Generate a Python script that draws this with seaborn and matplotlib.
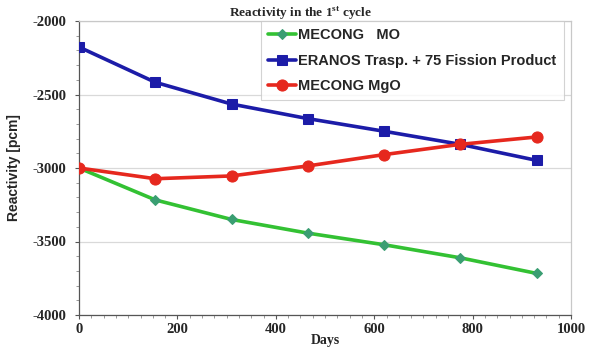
import matplotlib
matplotlib.use("Agg")
import matplotlib.pyplot as plt
import seaborn as sns
import pandas as pd
from matplotlib.ticker import MultipleLocator

days = [0, 155, 310, 465, 620, 775, 930]
mecong_mo = [-3000, -3217, -3350, -3443, -3522, -3611, -3717]
eranos = [-2177, -2417, -2565, -2664, -2750, -2839, -2948]
mecong_mgo = [-3000, -3073, -3054, -2986, -2909, -2839, -2789]
labels = ["MECONG   MO", "ERANOS Trasp. + 75 Fission Product", "MECONG MgO"]

df = pd.DataFrame({
    "Days": days * 3,
    "val": mecong_mo + eranos + mecong_mgo,
    "series": [labels[0]] * 7 + [labels[1]] * 7 + [labels[2]] * 7,
})

sns.set_style("white")
plt.rcParams["axes.unicode_minus"] = False
fig = plt.figure(figsize=(5.93, 3.49), dpi=100)
ax = fig.add_axes([79/593, 1-315/349, (571-79)/593, (315-21)/349])

palette = {labels[0]: "#33c133", labels[1]: "#1c1ca8", labels[2]: "#e6281e"}
mfc = {labels[0]: "#3a9e72", labels[1]: "#1c1ca8", labels[2]: "#e6281e"}
markers = {labels[0]: "D", labels[1]: "s", labels[2]: "o"}
msize = {labels[0]: 5.5, labels[1]: 7.5, labels[2]: 8}

for lab in labels:
    sub = df[df.series == lab]
    sns.lineplot(data=sub, x="Days", y="val", ax=ax, color=palette[lab],
                 marker=markers[lab], markersize=msize[lab], markerfacecolor=mfc[lab],
                 markeredgecolor=mfc[lab], linewidth=2.6, label=lab, zorder=3)

ax.set_xlim(0, 1000)
ax.set_ylim(-4000, -2000)
ax.xaxis.set_major_locator(MultipleLocator(200))
ax.xaxis.set_minor_locator(MultipleLocator(25))
ax.yaxis.set_major_locator(MultipleLocator(500))
ax.yaxis.set_minor_locator(MultipleLocator(100))
ax.yaxis.grid(True, which="major", color="#d9d9d9", linewidth=0.9)
ax.set_axisbelow(True)

for s in ["top", "right"]:
    ax.spines[s].set_color("#c8c8c8")
    ax.spines[s].set_linewidth(0.9)
for s in ["left", "bottom"]:
    ax.spines[s].set_color("#555555")
    ax.spines[s].set_linewidth(0.9)

ax.tick_params(axis="both", which="major", direction="out", length=3, width=0.8,
               color="#555555")
ax.tick_params(axis="both", which="minor", direction="out", length=2.5, width=0.6,
               color="#888888")
ax.tick_params(axis="x", which="major", pad=3)
ax.tick_params(axis="y", which="major", pad=6)
ax.tick_params(axis="x", which="both", bottom=True)
ax.tick_params(axis="y", which="both", left=True)
for t in ax.get_xticklabels() + ax.get_yticklabels():
    t.set_fontfamily("Liberation Serif")
    t.set_fontweight("bold")
    t.set_fontsize(10.5)

ax.set_xlabel("Days", fontfamily="Liberation Serif", fontweight="bold", fontsize=10, labelpad=-2)
ax.set_ylabel("Reactivity [pcm]", fontfamily="Liberation Sans", fontweight="bold", fontsize=10, labelpad=8)
fig.text(0.507, 1-13/349, "Reactivity in the 1$^{\\mathregular{st}}$ cycle", ha="center", va="center",
         fontfamily="Liberation Serif", fontweight="bold", fontsize=9.5)

leg = ax.legend(loc="upper right", bbox_to_anchor=(0.985, 1.0), frameon=True, fancybox=False,
                prop={"family": "Liberation Sans", "weight": "bold", "size": 10.5},
                handlelength=1.9, handletextpad=0.15, borderpad=0.5, labelspacing=0.78,
                borderaxespad=0)
leg.get_frame().set_edgecolor("#c8c8c8")
leg.get_frame().set_linewidth(0.8)

fig.savefig("out.png", dpi=100)
